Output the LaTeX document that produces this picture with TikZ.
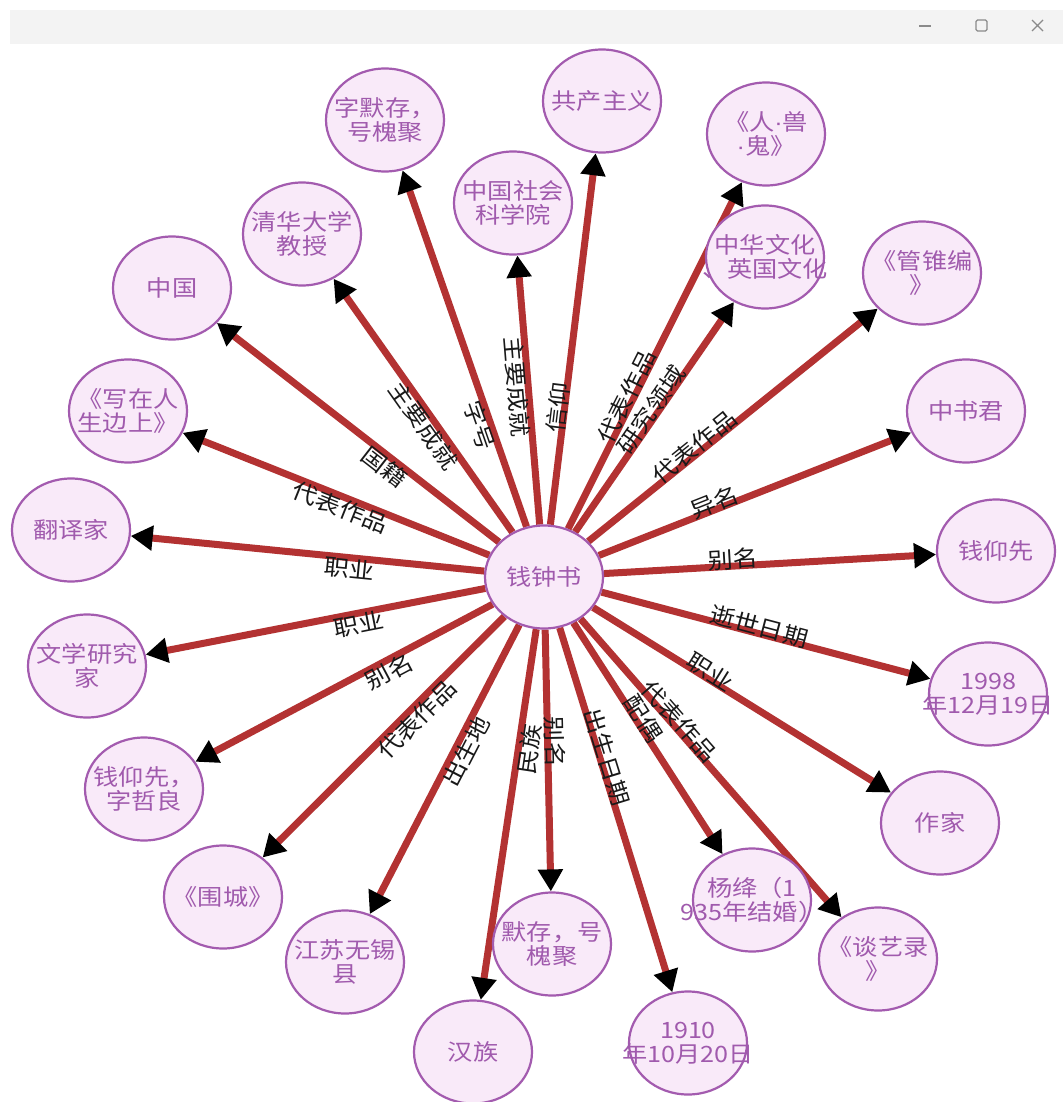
\documentclass[tikz,border=0pt]{standalone}
\usepackage{fontspec}
\setmainfont{Noto Sans CJK SC}[FakeStretch=1.12]
\newfontfamily\dotfont{Liberation Sans}[FakeStretch=1.12]
\usetikzlibrary{shapes.geometric,arrows.meta}
\definecolor{relred}{HTML}{B33232}
\definecolor{nodefill}{HTML}{F9EAF9}
\definecolor{nodedraw}{HTML}{A35BAF}
\definecolor{nodetext}{HTML}{A05AAD}
\definecolor{barbg}{HTML}{F3F3F3}
\definecolor{iconcol}{HTML}{8A8A8A}
\newcommand{\md}{{\dotfont ·}}
\pgfdeclarelayer{background}
\pgfsetlayers{background,main}
\begin{document}
\begin{tikzpicture}[x=1pt,y=-1pt,
  ent/.style={ellipse, draw=nodedraw, fill=nodefill, line width=2.2pt,
    minimum width=118pt, minimum height=103pt, inner sep=0pt},
  ntext/.style={text=nodetext, font=\fontsize{22.5}{23.5}\selectfont, align=center, inner sep=0pt},
  rel/.style={draw=relred, line width=7pt, -{Triangle[length=22pt,width=24pt,color=black]}},
  elabel/.style={sloped, font=\fontsize{22.5}{24}\selectfont, text=black!90, inner sep=0pt},
]
\useasboundingbox (0,0) rectangle (1063,1102);

% nodes
\node[ent, label={[ntext]center:钱钟书}] (c) at (544,577) {};
\node[ent, label={[ntext]center:{字默存，\\号槐聚}}] (zimo) at (385,120) {};
\node[ent, label={[ntext]center:共产主义}] (gcz) at (602,101) {};
\node[ent, label={[ntext]center:{《人\md 兽\\\md 鬼》}}] (rsg) at (766,134) {};
\node[ent, label={[ntext]center:{中国社会\\科学院}}] (shky) at (513,203) {};
\node[ent, label={[ntext]center:{清华大学\\教授}}] (qh) at (302,234) {};
\node[ent, label={[ntext]center:{中华文化\\、英国文化}}] (zhwh) at (765,257) {};
\node[ent, label={[ntext]center:{《管锥编\\》}}] (gzb) at (922,273) {};
\node[ent, label={[ntext]center:中国}] (zg) at (172,288) {};
\node[ent, label={[ntext]center:{《写在人\\生边上》}}] (xzr) at (128,411) {};
\node[ent, label={[ntext]center:中书君}] (zsj) at (966,411) {};
\node[ent, label={[ntext]center:翻译家}] (fyj) at (71,530) {};
\node[ent, label={[ntext]center:钱仰先}] (qyx) at (996,551) {};
\node[ent, label={[ntext]center:{文学研究\\家}}] (wxy) at (87,666) {};
\node[ent, label={[ntext]center:{1998\\年12月19日}}] (d1998) at (988,694) {};
\node[ent, label={[ntext]center:{钱仰先，\\字哲良}}] (qyxz) at (144,789) {};
\node[ent, label={[ntext]center:作家}] (zj) at (940,823) {};
\node[ent, label={[ntext]center:《围城》}] (wc) at (223,897) {};
\node[ent, label={[ntext]center:{杨绛（1\\935年结婚）}}] (yj) at (752,900) {};
\node[ent, label={[ntext]center:{《谈艺录\\》}}] (tyl) at (878,959) {};
\node[ent, label={[ntext]center:{江苏无锡\\县}}] (js) at (345,962) {};
\node[ent, label={[ntext]center:{默存，号\\槐聚}}] (mc) at (552,944) {};
\node[ent, label={[ntext]center:汉族}] (hz) at (473,1052) {};
\node[ent, label={[ntext]center:{1910\\年10月20日}}] (d1910) at (688,1043) {};

\begin{pgfonlayer}{background}
\fill[white] (0,0) rectangle (1063,1102);
% window bar
\fill[barbg] (10,10) rectangle (1063,44);
\draw[iconcol, line width=1.2pt] (919,26) -- (931,26);
\draw[iconcol, line width=1.2pt, rounded corners=1.5pt] (976,20) rectangle (987,31);
\draw[iconcol, line width=1.2pt] (1032,20) -- (1043,31) (1032,31) -- (1043,20);
% connectors
\foreach \n in {zimo,gcz,rsg,shky,qh,zhwh,gzb,zg,xzr,zsj,fyj,qyx,wxy,d1998,qyxz,zj,wc,yj,tyl,js,mc,hz,d1910}
  \draw[rel] (c) -- (\n);
% labels on rightward connectors (text above the line)
\foreach \n/\l/\p in {gcz/信仰/0.355, rsg/代表作品/0.40, zhwh/研究领域/0.51, gzb/代表作品/0.41,
  zsj/异名/0.41, qyx/别名/0.42, d1998/逝世日期/0.48, zj/职业/0.41, yj/配偶/0.45,
  tyl/代表作品/0.39, mc/别名/0.45, d1910/出生日期/0.39}
  \path (c.center) -- (\n.center) node[elabel, pos=\p, yshift=7pt] {\l};
% labels on leftward connectors (text below the line)
\foreach \n/\l/\p in {zimo/字号/0.34, shky/主要成就/0.51, qh/主要成就/0.46, zg/国籍/0.41,
  xzr/代表作品/0.48, fyj/职业/0.41, wxy/职业/0.41, qyxz/别名/0.40, wc/代表作品/0.42,
  js/出生地/0.44, hz/民族/0.36}
  \path (c.center) -- (\n.center) node[elabel, pos=\p, yshift=-11pt] {\l};
\end{pgfonlayer}
\end{tikzpicture}
\end{document}
